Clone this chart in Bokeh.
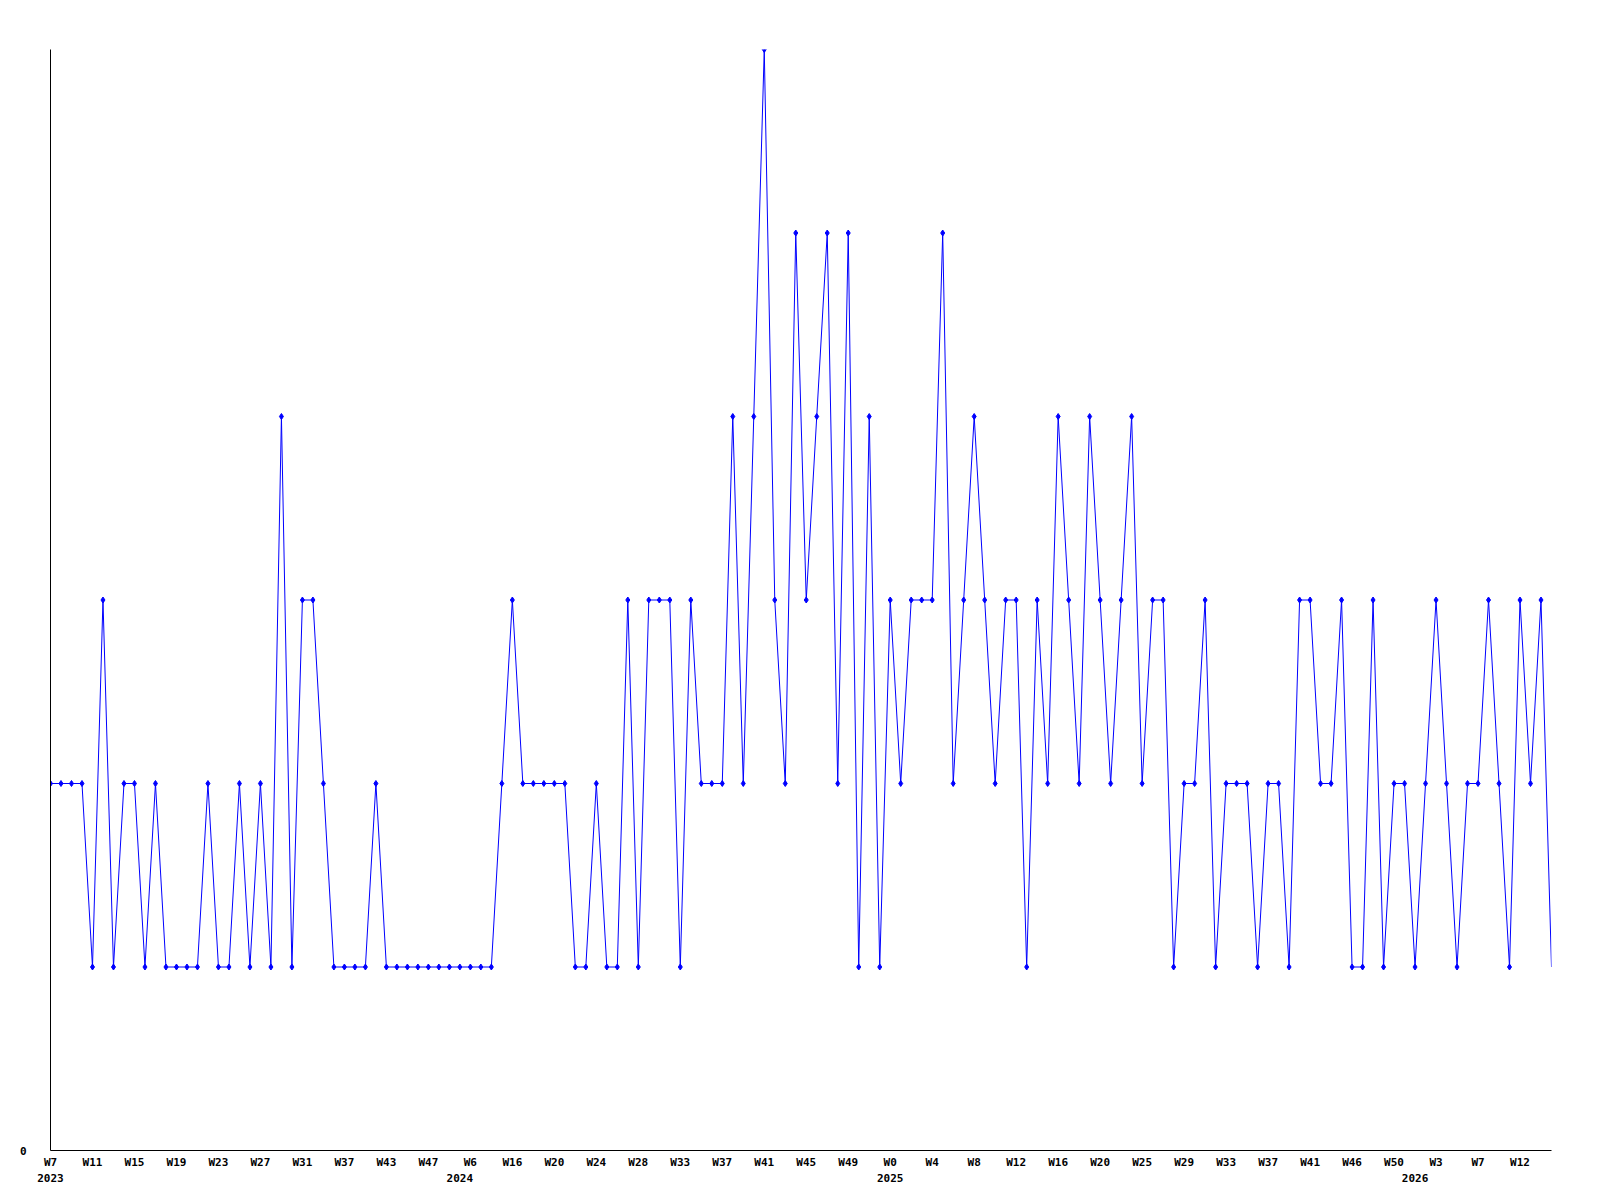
from bokeh.plotting import figure
from bokeh.models import Range1d, FixedTicker, LinearAxis
from bokeh.embed import file_html
from bokeh.resources import INLINE

# Weekly counts (one point per category, evenly spaced)
values = [
    2, 2, 2, 2, 1, 3, 1, 2, 2, 1, 2, 1, 1, 1, 1, 2, 1, 1, 2, 1,
    2, 1, 4, 1, 3, 3, 2, 1, 1, 1, 1, 2, 1, 1, 1, 1, 1, 1, 1, 1,
    1, 1, 1, 2, 3, 2, 2, 2, 2, 2, 1, 1, 2, 1, 1, 3, 1, 3, 3, 3,
    1, 3, 2, 2, 2, 4, 2, 4, 6, 3, 2, 5, 3, 4, 5, 2, 5, 1, 4, 1,
    3, 2, 3, 3, 3, 5, 2, 3, 4, 3, 2, 3, 3, 1, 3, 2, 4, 3, 2, 4,
    3, 2, 3, 4, 2, 3, 3, 1, 2, 2, 3, 1, 2, 2, 2, 1, 2, 2, 1, 3,
    3, 2, 2, 3, 1, 1, 3, 1, 2, 2, 1, 2, 3, 2, 1, 2, 2, 3, 2, 1,
    3, 2, 3, 1,
]

# Tick labels (every 4th category)
week_labels = [
    "W7", "W11", "W15", "W19", "W23", "W27", "W31", "W37", "W43", "W47",
    "W6", "W16", "W20", "W24", "W28", "W33", "W37", "W41", "W45", "W49",
    "W0", "W4", "W8", "W12", "W16", "W20", "W25", "W29", "W33", "W37",
    "W41", "W46", "W50", "W3", "W7", "W12",
]
label_step = 4

year_labels = ["2023", "2024", "2025", "2026"]
year_index = [0, 39, 80, 130]

xs = list(range(len(values)))
week_ticks = [i * label_step for i in range(len(week_labels))]

p = figure(
    output_backend="svg", toolbar_location=None,
    frame_width=1501, frame_height=1101,
    min_border_left=50, min_border_right=41, min_border_top=49, min_border_bottom=40,
    x_range=Range1d(0, len(values) - 1), y_range=Range1d(0, 6),
    background_fill_color="white", border_fill_color="white",
)
p.outline_line_color = None
p.xgrid.visible = False
p.ygrid.visible = False

FONT = "DejaVu Sans Mono"


def style_axis(ax):
    ax.major_tick_line_color = None
    ax.minor_tick_line_color = None
    ax.major_tick_out = 0
    ax.major_tick_in = 0
    ax.major_label_text_font = FONT
    ax.major_label_text_font_style = "bold"
    ax.major_label_text_font_size = "11px"
    ax.major_label_text_color = "black"


# y axis: only the zero label
p.yaxis.ticker = FixedTicker(ticks=[0])
p.yaxis.axis_line_color = "black"
style_axis(p.yaxis[0])
p.yaxis.major_label_standoff = 24

# x axis: week labels
p.xaxis.ticker = FixedTicker(ticks=week_ticks)
p.xaxis.major_label_overrides = {t: lab for t, lab in zip(week_ticks, week_labels)}
p.xaxis.axis_line_color = "black"
style_axis(p.xaxis[0])
p.xaxis.major_label_standoff = 5

# second axis below: year labels
year_axis = LinearAxis(ticker=FixedTicker(ticks=year_index),
                       major_label_overrides={t: y for t, y in zip(year_index, year_labels)})
style_axis(year_axis)
year_axis.axis_line_color = None
year_axis.major_label_standoff = 2
p.add_layout(year_axis, "below")

p.line(xs, values, line_color="#0000ff", line_width=1)
p.scatter(xs[:-1], values[:-1], marker="diamond", size=6,
          fill_color="#0000ff", line_color="#0000ff")

open("out.html", "w").write(file_html(p, INLINE))
